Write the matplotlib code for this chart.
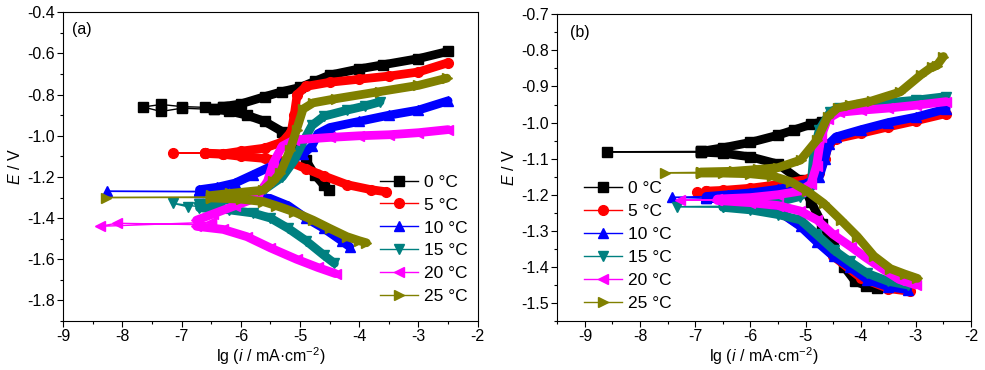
import matplotlib
matplotlib.use("Agg")
import matplotlib.pyplot as plt
from matplotlib.ticker import MultipleLocator

plt.rcParams['font.family'] = ['Liberation Sans', 'DejaVu Sans']
plt.rcParams['mathtext.fontset'] = 'custom'
plt.rcParams['mathtext.rm'] = 'Liberation Sans'
plt.rcParams['mathtext.it'] = 'Liberation Sans:italic'

labels = ['0 °C', '5 °C', '10 °C', '15 °C', '20 °C', '25 °C']
colors = ['#000000', '#FF0000', '#0000FF', '#008080', '#FF00FF', '#808000']
markers = ['s', 'o', '^', 'v', '<', '>']

# ---------------- panel (a) data: (lg i, E) ----------------
a0_tail = [(-6.45, -0.872), (-7.0, -0.866), (-7.35, -0.882), (-7.65, -0.860), (-7.35, -0.848), (-7.0, -0.858), (-6.6, -0.862), (-6.3, -0.858)]
a0_cath = [(-4.52, -1.262), (-4.6, -1.24), (-4.75, -1.19), (-4.9, -1.12), (-5.05, -1.04), (-5.3, -0.98), (-5.6, -0.93), (-5.9, -0.90), (-6.2, -0.88), (-6.45, -0.872)]
a0_anod = [(-6.3, -0.858), (-6.0, -0.845), (-5.6, -0.81), (-5.3, -0.785), (-5.0, -0.765), (-4.75, -0.735), (-4.5, -0.705), (-4.0, -0.675), (-3.6, -0.655), (-3.0, -0.625), (-2.5, -0.59)]

a5_tail = [(-6.6, -1.086), (-7.15, -1.082), (-6.6, -1.084)]
a5_cath = [(-3.55, -1.272), (-3.8, -1.262), (-4.2, -1.238), (-4.6, -1.195), (-4.9, -1.16), (-5.2, -1.125), (-5.6, -1.11), (-6.0, -1.10), (-6.3, -1.09), (-6.6, -1.086)]
a5_anod = [(-6.6, -1.084), (-6.3, -1.088), (-6.0, -1.075), (-5.6, -1.06), (-5.3, -1.03), (-5.15, -0.98), (-5.1, -0.90), (-5.05, -0.80), (-4.9, -0.76), (-4.5, -0.74), (-4.0, -0.725), (-3.5, -0.71), (-3.0, -0.69), (-2.5, -0.645)]

a10_tail = [(-6.7, -1.27), (-8.27, -1.27), (-6.7, -1.272)]
a10_cath = [(-4.16, -1.54), (-4.3, -1.51), (-4.6, -1.45), (-4.9, -1.40), (-5.2, -1.34), (-5.5, -1.305), (-5.9, -1.29), (-6.3, -1.28), (-6.7, -1.272)]
a10_anod = [(-6.7, -1.262), (-6.4, -1.25), (-6.1, -1.23), (-5.8, -1.19), (-5.5, -1.15), (-5.2, -1.12), (-4.95, -1.09), (-4.8, -1.05), (-4.7, -0.99), (-4.5, -0.96), (-4.0, -0.93), (-3.5, -0.90), (-3.0, -0.875), (-2.5, -0.83)]

a15_tail = [(-6.7, -1.345), (-7.15, -1.328), (-6.9, -1.345)]
a15_cath = [(-4.42, -1.62), (-4.6, -1.58), (-4.9, -1.51), (-5.2, -1.45), (-5.5, -1.40), (-5.8, -1.375), (-6.2, -1.36), (-6.7, -1.35)]
a15_anod = [(-6.7, -1.33), (-6.3, -1.315), (-5.9, -1.29), (-5.6, -1.26), (-5.3, -1.20), (-5.1, -1.12), (-4.95, -1.03), (-4.8, -0.95), (-4.6, -0.905), (-4.2, -0.875), (-3.9, -0.855), (-3.65, -0.835)]

a20_tail = [(-6.5, -1.42), (-8.38, -1.44), (-8.1, -1.425), (-6.5, -1.433)]
a20_cath = [(-4.4, -1.67), (-4.7, -1.64), (-5.06, -1.60), (-5.5, -1.545), (-5.9, -1.49), (-6.3, -1.455), (-6.75, -1.44)]
a20_anod = [(-6.75, -1.41), (-6.47, -1.38), (-6.1, -1.34), (-5.73, -1.30), (-5.55, -1.22), (-5.45, -1.13), (-5.3, -1.05), (-5.1, -1.02), (-4.5, -1.008), (-4.0, -1.0), (-3.5, -0.995), (-3.0, -0.985), (-2.5, -0.97)]

a25_tail = [(-6.5, -1.30), (-8.28, -1.30), (-6.5, -1.298)]
a25_cath = [(-3.88, -1.52), (-4.0, -1.51), (-4.21, -1.49), (-4.5, -1.45), (-4.78, -1.41), (-5.1, -1.37), (-5.4, -1.34), (-5.62, -1.32), (-6.0, -1.308), (-6.5, -1.302)]
a25_anod = [(-6.5, -1.29), (-6.18, -1.28), (-5.62, -1.264), (-5.45, -1.22), (-5.34, -1.183), (-5.17, -1.07), (-5.06, -0.97), (-4.95, -0.87), (-4.78, -0.84), (-4.4, -0.82), (-3.65, -0.785), (-3.0, -0.755), (-2.52, -0.72)]

# ---------------- panel (b) data ----------------
b0_tail = [(-6.9, -1.082), (-8.6, -1.081), (-6.9, -1.08)]
b0_cath = [(-3.7, -1.458), (-3.9, -1.452), (-4.1, -1.44), (-4.3, -1.40), (-4.5, -1.34), (-4.7, -1.28), (-4.9, -1.22), (-5.1, -1.16), (-5.5, -1.115), (-6.0, -1.095), (-6.5, -1.085), (-6.9, -1.082)]
b0_anod = [(-6.9, -1.08), (-6.5, -1.07), (-6.0, -1.055), (-5.5, -1.035), (-5.2, -1.02), (-4.9, -1.005), (-4.7, -0.998)]

b5_tail = [(-6.8, -1.195), (-6.97, -1.192), (-6.8, -1.19)]
b5_cath = [(-3.1, -1.468), (-3.5, -1.46), (-4.0, -1.43), (-4.5, -1.37), (-5.0, -1.295), (-5.5, -1.245), (-6.0, -1.22), (-6.5, -1.205), (-6.8, -1.20)]
b5_anod = [(-6.8, -1.19), (-6.5, -1.188), (-6.0, -1.182), (-5.5, -1.172), (-5.0, -1.158), (-4.75, -1.14), (-4.65, -1.10), (-4.58, -1.06), (-4.45, -1.045), (-4.0, -1.03), (-3.5, -1.012), (-3.0, -0.995), (-2.45, -0.975)]

b10_tail = [(-6.8, -1.205), (-7.42, -1.207), (-6.8, -1.21)]
b10_cath = [(-3.15, -1.463), (-3.5, -1.455), (-3.88, -1.436), (-4.2, -1.40), (-4.49, -1.371), (-4.8, -1.33), (-5.09, -1.288), (-5.5, -1.245), (-6.0, -1.225), (-6.5, -1.212), (-6.8, -1.21)]
b10_anod = [(-6.8, -1.205), (-6.4, -1.20), (-6.0, -1.195), (-5.5, -1.185), (-5.0, -1.17), (-4.75, -1.15), (-4.65, -1.10), (-4.58, -1.06), (-4.45, -1.04), (-4.0, -1.02), (-3.5, -1.0), (-3.0, -0.985), (-2.45, -0.962)]

b15_tail = [(-6.5, -1.232), (-7.33, -1.233), (-6.5, -1.235)]
b15_cath = [(-3.15, -1.45), (-3.5, -1.44), (-3.88, -1.418), (-4.2, -1.385), (-4.49, -1.353), (-4.8, -1.31), (-5.09, -1.27), (-5.5, -1.255), (-6.0, -1.242), (-6.5, -1.235)]
b15_anod = [(-6.5, -1.232), (-6.0, -1.228), (-5.5, -1.22), (-5.1, -1.205), (-4.9, -1.18), (-4.85, -1.08), (-4.75, -1.02), (-4.55, -0.97), (-4.4, -0.96), (-4.0, -0.952), (-3.5, -0.945), (-3.0, -0.938), (-2.45, -0.928)]

b20_tail = [(-6.6, -1.214), (-7.27, -1.214), (-6.6, -1.216)]
b20_cath = [(-3.0, -1.45), (-3.3, -1.435), (-3.58, -1.408), (-3.9, -1.375), (-4.18, -1.344), (-4.5, -1.31), (-4.79, -1.27), (-5.1, -1.245), (-5.5, -1.23), (-6.0, -1.222), (-6.6, -1.216)]
b20_anod = [(-6.6, -1.212), (-6.0, -1.208), (-5.5, -1.20), (-5.1, -1.19), (-4.9, -1.17), (-4.8, -1.12), (-4.72, -1.04), (-4.6, -0.99), (-4.4, -0.972), (-4.0, -0.966), (-3.5, -0.96), (-3.0, -0.952), (-2.45, -0.942)]

b25_tail = [(-6.9, -1.138), (-7.54, -1.139), (-6.9, -1.14)]
b25_cath = [(-2.97, -1.432), (-3.2, -1.42), (-3.46, -1.405), (-3.76, -1.37), (-4.06, -1.316), (-4.36, -1.27), (-4.67, -1.224), (-4.97, -1.19), (-5.27, -1.164), (-5.6, -1.148), (-6.0, -1.142), (-6.5, -1.14), (-6.9, -1.14)]
b25_anod = [(-6.9, -1.137), (-6.3, -1.135), (-5.87, -1.13), (-5.5, -1.125), (-5.09, -1.104), (-4.79, -1.048), (-4.6, -0.984), (-4.42, -0.96), (-4.19, -0.952), (-3.8, -0.94), (-3.28, -0.915), (-2.91, -0.868), (-2.7, -0.845), (-2.62, -0.842), (-2.5, -0.817)]

panel_a = [(a0_tail, a0_cath, a0_anod), (a5_tail, a5_cath, a5_anod), (a10_tail, a10_cath, a10_anod),
           (a15_tail, a15_cath, a15_anod), (a20_tail, a20_cath, a20_anod), (a25_tail, a25_cath, a25_anod)]
panel_b = [(b0_tail, b0_cath, b0_anod), (b5_tail, b5_cath, b5_anod), (b10_tail, b10_cath, b10_anod),
           (b15_tail, b15_cath, b15_anod), (b20_tail, b20_cath, b20_anod), (b25_tail, b25_cath, b25_anod)]

fig = plt.figure(figsize=(9.85, 3.70), dpi=100)
W, H = 985.0, 370.0
axa = fig.add_axes([63.3 / W, (H - 321) / H, 414.4 / W, 308.7 / H])
axb = fig.add_axes([557.3 / W, (H - 321) / H, 413.7 / W, 306.7 / H])


def draw(ax, data):
    for (tail, cath, anod), lab, col, mk in zip(data, labels, colors, markers):
        for br in (cath, anod):
            x, y = zip(*br)
            ax.plot(x, y, '-', color=col, lw=6.3, solid_capstyle='round', solid_joinstyle='round',
                    marker=mk, ms=7, mfc=col, mec=col)
        x, y = zip(*tail)
        ax.plot(x, y, '-', color=col, lw=1, marker=mk, ms=7, mfc=col, mec=col, label=lab)


draw(axa, panel_a)
draw(axb, panel_b)

axa.set_xlim(-9, -2)
axa.set_ylim(-1.9, -0.4)
axa.xaxis.set_minor_locator(MultipleLocator(0.5))
axa.set_yticks([-1.8, -1.6, -1.4, -1.2, -1.0, -0.8, -0.6, -0.4])
axa.set_yticklabels(['-1.8', '-1.6', '-1.4', '-1.2', '-1.0', '-0.8', '-0.6', '-0.4'])
axa.yaxis.set_minor_locator(MultipleLocator(0.1))

axb.set_xlim(-9.5, -2)
axb.set_ylim(-1.55, -0.7)
axb.xaxis.set_minor_locator(MultipleLocator(0.5))
axb.set_yticks([-1.5, -1.4, -1.3, -1.2, -1.1, -1.0, -0.9, -0.8, -0.7])
axb.set_yticklabels(['-1.5', '-1.4', '-1.3', '-1.2', '-1.1', '-1.0', '-0.9', '-0.8', '-0.7'])
axb.yaxis.set_minor_locator(MultipleLocator(0.05))

for ax in (axa, axb):
    ax.set_xticks(range(-9, -1))
    ax.set_xticklabels([str(v) for v in range(-9, -1)])
    ax.tick_params(which='major', direction='out', length=4, width=0.8, labelsize=11.5, pad=2)
    ax.tick_params(which='minor', direction='out', length=2.2, width=0.8)
    for s in ax.spines.values():
        s.set_linewidth(0.8)
    ax.set_xlabel('lg ($\\mathit{i}$ / mA·cm$^{-2}$)', fontsize=11.5, labelpad=1)
    ax.set_ylabel('$\\mathit{E}$ / V', fontsize=11.5, labelpad=3)

axa.text(0.021, 0.943, '(a)', transform=axa.transAxes, fontsize=11.5, va='center', ha='left')
axb.text(0.031, 0.942, '(b)', transform=axb.transAxes, fontsize=11.5, va='center', ha='left')

axa.legend(loc='lower right', bbox_to_anchor=(1.0, 0.02), frameon=False, fontsize=12.5,
           handlelength=2.2, handletextpad=0.3, labelspacing=0.45, borderaxespad=0.2)
axb.legend(loc='lower left', bbox_to_anchor=(0.04, 0.0), frameon=False, fontsize=12.5,
           handlelength=2.2, handletextpad=0.3, labelspacing=0.45, borderaxespad=0.2)

fig.savefig('out.png', dpi=100)
